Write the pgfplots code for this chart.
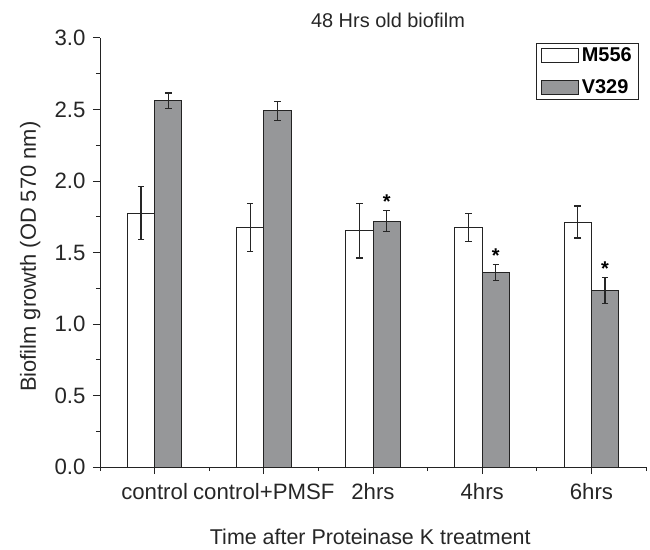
\documentclass[border=0pt]{standalone}
\usepackage{fontspec}
\setmainfont{Liberation Sans}
\usepackage{pgfplots}
\pgfplotsset{compat=1.18}
\usetikzlibrary{calc}

\definecolor{bargray}{RGB}{150,151,153}
\definecolor{edge}{RGB}{35,35,35}

\begin{document}
\begin{tikzpicture}
\begin{axis}[
  name=ax,
  scale only axis,
  width=546bp, height=429bp,
  xmin=-0.5, xmax=4.5,
  ymin=0, ymax=3,
  axis lines*=left,
  axis line style={edge, line width=1bp},
  xtick={0,...,4},
  xticklabels={control, control+PMSF, 2hrs, 4hrs, 6hrs},
  minor xtick={-0.5,0.5,...,4.5},
  ytick={0,0.5,...,3},
  minor ytick={0.25,0.75,...,2.75},
  tick align=outside,
  major tick length=7bp, minor tick length=4bp,
  tick style={edge, line width=1bp},
  y tick label style={/pgf/number format/.cd, fixed, fixed zerofill, precision=1, /tikz/.cd, xshift=-4bp},
  x tick label style={yshift=-6bp},
  /pgf/number format/assume math mode=true,
  tick label style={font=\fontsize{22.3}{26}\selectfont, text=black!85},
  ylabel={Biofilm growth (OD 570 nm)},
  ylabel style={at={(axis description cs:-0.128,0.49)}, anchor=center, font=\fontsize{22}{26}\selectfont, text=black!85},
  xlabel={Time after Proteinase K treatment},
  xlabel style={at={(axis description cs:0.495,-0.163)}, anchor=center, font=\fontsize{21.5}{26}\selectfont, text=black!85},
  title={48 Hrs old biofilm},
  title style={at={(axis description cs:0.5275,1.027)}, anchor=center, font=\fontsize{20}{24}\selectfont, text=black!85},
  legend image code/.code={\draw[#1] (0bp,-7bp) rectangle (37bp,7bp);},
  legend style={at={(0.9875,0.9885)}, anchor=north east, draw=edge, line width=1bp,
    font=\fontsize{20}{24}\selectfont\bfseries, row sep=15bp, inner xsep=4bp, inner ysep=3bp,
    nodes={inner xsep=3bp, inner ysep=1bp}},
  legend cell align=left,
]

% legend entries
\addlegendimage{fill=white, draw=edge, line width=1bp}
\addlegendentry{M556}
\addlegendimage{fill=bargray, draw=edge, line width=1bp}
\addlegendentry{V329}

% M556
\addplot[ybar, bar width=0.25, bar shift=0pt, fill=white, draw=edge, line width=1bp,
  error bars/.cd, y dir=both, y explicit,
  error bar style={line width=1.2bp, black!85},
  error mark options={rotate=90, mark size=3.3bp, line width=1.2bp, black!85}]
  coordinates {
    (-0.125,1.776) +- (0,0.185)
    (0.875,1.676) +- (0,0.168)
    (1.875,1.652) +- (0,0.190)
    (2.875,1.673) +- (0,0.098)
    (3.875,1.713) +- (0,0.112)
  };

% V329
\addplot[ybar, bar width=0.25, bar shift=0pt, fill=bargray, draw=edge, line width=1bp,
  error bars/.cd, y dir=both, y explicit,
  error bar style={line width=1.2bp, black!85},
  error mark options={rotate=90, mark size=3.3bp, line width=1.2bp, black!85}]
  coordinates {
    (0.125,2.560) +- (0,0.055)
    (1.125,2.490) +- (0,0.065)
    (2.125,1.720) +- (0,0.075)
    (3.125,1.361) +- (0,0.056)
    (4.125,1.233) +- (0,0.090)
  };

% significance marks
\addplot[only marks, mark=text, text mark={\fontsize{20}{24}\selectfont\bfseries *},
  mark options={black!85}]
  coordinates {(2.125,1.855) (3.125,1.475) (4.125,1.385)};

\end{axis}
\pgfresetboundingbox
\path ($(ax.south west)+(-100bp,-82bp)$) rectangle ($(ax.north east)+(4bp,38bp)$);
\end{tikzpicture}
\end{document}
